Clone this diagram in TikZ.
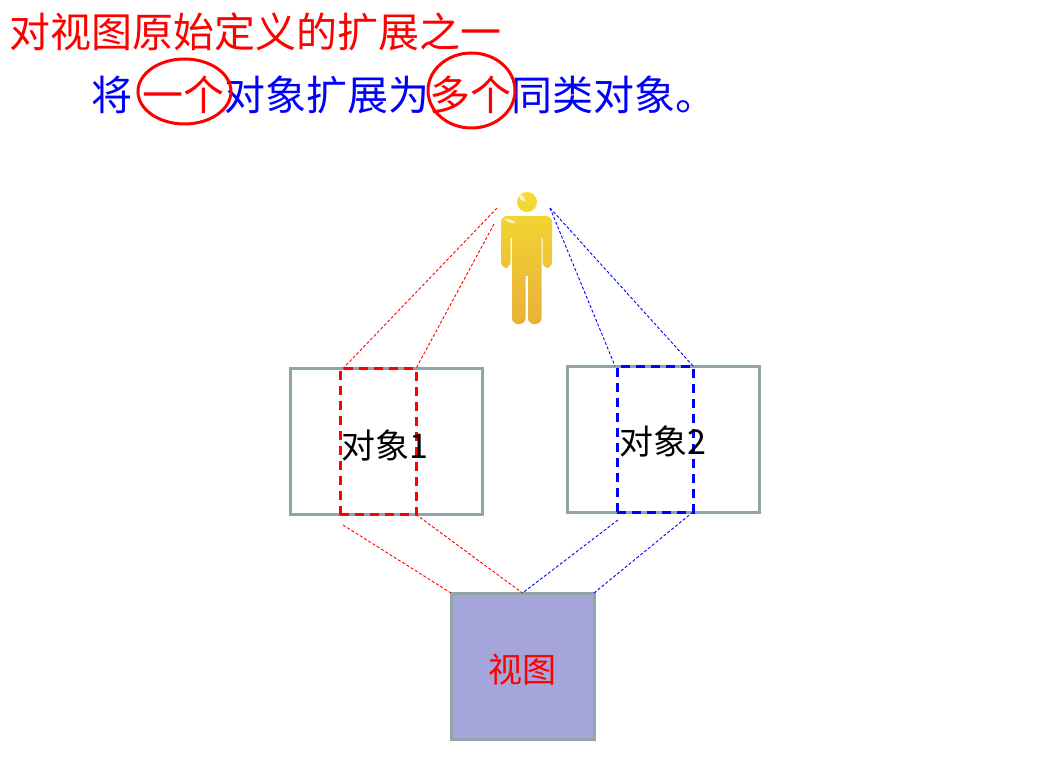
\documentclass[tikz,border=0pt]{standalone}
\usepackage{fontspec}
\usepackage{xcolor}
\setmainfont{Noto Sans CJK SC}
\usetikzlibrary{positioning,calc,shapes.geometric}
\definecolor{boxgray}{HTML}{8FA5A8}
\definecolor{viewfill}{HTML}{A5A5DC}
\definecolor{persontop}{HTML}{F4DC30}
\definecolor{personlow}{HTML}{E8B03A}
\tikzset{
    objbox/.style={draw=boxgray, line width=3pt, inner sep=0pt, outer sep=0pt, minimum width=192pt, minimum height=146pt},
    redpart/.style={draw=red, dash pattern=on 9pt off 6pt, line width=3pt, inner sep=0pt, outer sep=0pt, minimum width=76pt, minimum height=146pt},
    bluepart/.style={redpart, draw=blue},
    viewbox/.style={draw=boxgray, fill=viewfill, line width=3pt, inner sep=0pt, outer sep=0pt, minimum width=143pt, minimum height=146pt},
    redlink/.style={draw=red, dash pattern=on 3pt off 2pt, line width=0.9pt},
    bluelink/.style={draw=blue, dash pattern=on 3pt off 2pt, line width=0.9pt},
    ring/.style={draw=red, line width=3pt, ellipse, inner sep=0pt},
}
\begin{document}
\begin{tikzpicture}[x=1pt, y=-1pt]
    \useasboundingbox (0,0) rectangle (1042,770);

    % Heading
    \node[anchor=west, text=red, font=\fontsize{41}{41}\selectfont, inner sep=0pt] (title) at (9,32) {对视图原始定义的扩展之一};
    \node[anchor=west, text=blue, font=\fontsize{41}{41}\selectfont, inner sep=0pt] (subtitle) at (91,95) {将\hspace{10pt}\textcolor{red}{一个}对象扩展为\textcolor{red}{多个}同类对象。};
    \node[ring, minimum width=93pt, minimum height=65pt] (ringone) at (184.5,91.5) {};
    \node[ring, minimum width=87pt, minimum height=75pt] (ringmany) at (471.5,90.5) {};

    % Person
    \path[rounded corners=6pt, top color=persontop, bottom color=personlow]
        (527,202) circle (10)
        (501,216) rectangle (552,238)
        (501,226) rectangle (510.5,268)
        (542.5,226) rectangle (552,268)
        (512,226) rectangle (541.5,276)
        (512,260) rectangle (525.5,324)
        (528,260) rectangle (541.5,324);
    \fill[white, opacity=0.7, rotate around={40:(522,198)}] (522,198) ellipse (2 and 4.5);
    \fill[white, opacity=0.7, rotate around={70:(510,221)}] (510,221) ellipse (1.5 and 6);

    % Objects
    \node[objbox] (objone) at (386,441.5) {};
    \node[objbox] (objtwo) at (663,439) {};
    \node[redpart] (partone) at (378,441.5) {};
    \node[bluepart] (parttwo) at (655,439) {};
    \node[font=\fontsize{34}{34}\selectfont] (objonetext) at (385,445) {对象1};
    \node[font=\fontsize{34}{34}\selectfont] (objtwotext) at (663,441) {对象2};

    % View
    \node[viewbox] (view) at (522.5,666) {};
    \node[text=red, font=\fontsize{34}{34}\selectfont] (viewtext) at (522,670) {视图};

    % Free ends
    \coordinate (eyeredA) at (497,208);
    \coordinate (eyeredB) at (494,224);
    \coordinate (eyeblue) at (550,208);
    \coordinate (onelowA) at (343,525);
    \coordinate (twolowA) at (618,520);

    % Links
    \draw[redlink] (eyeredA) -- ($(partone.north west)+(3,0)$);
    \draw[redlink] (eyeredB) -- (partone.north east);
    \draw[bluelink] (eyeblue) -- (parttwo.north east);
    \draw[bluelink] (eyeblue) -- ($(parttwo.north west)+(-2,0)$);
    \draw[redlink] (onelowA) -- (view.north west);
    \draw[redlink] (partone.south east) -- (view.north);
    \draw[bluelink] (twolowA) -- (view.north);
    \draw[bluelink] (parttwo.south east) -- (view.north east);
\end{tikzpicture}
\end{document}
